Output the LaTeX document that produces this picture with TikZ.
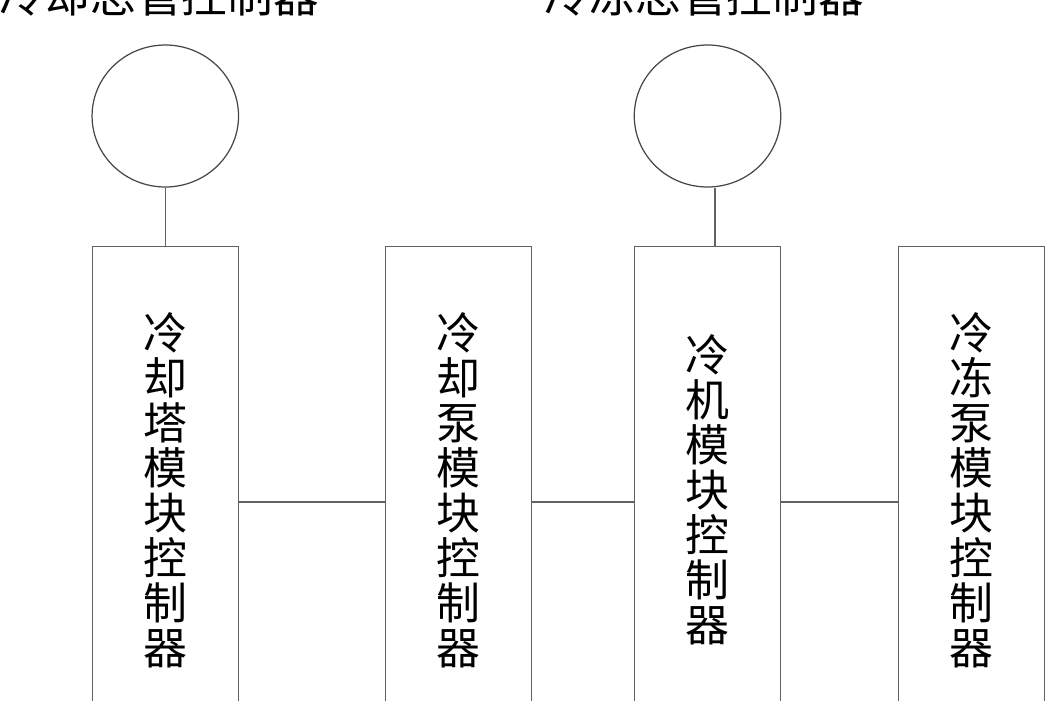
\documentclass[tikz,border=0pt]{standalone}
\usepackage{fontspec}
\setmainfont{Noto Sans CJK SC}
\usetikzlibrary{shapes.geometric}
\begin{document}
\begin{tikzpicture}[x=0.02cm,y=-0.02cm,
  line/.style={draw=black!62,line width=0.6pt},
  modbox/.style={line,rectangle,inner sep=0pt,minimum width=2.93cm,minimum height=9.76cm,align=center,
    font=\fontsize{25pt}{25.6pt}\selectfont},
  ctrl/.style={draw=black!72,line width=0.7pt,ellipse,inner sep=0pt,minimum width=2.93cm,minimum height=2.84cm},
  title/.style={anchor=base,inner sep=0pt,font=\fontsize{26pt}{27pt}\selectfont}]
\useasboundingbox (0,0) rectangle (1050,700);
\clip (0,0) rectangle (1050,700);
\fill[white] (0,0) rectangle (1050,700);
% titles
\node[title] (t1) at (159,12) {冷却总管控制器};
\node[title] (t2) at (704,12) {冷冻总管控制器};
% controllers
\node[ctrl] (c1) at (165.3,116) {};
\node[ctrl] (c2) at (707.5,116) {};
% module boxes
\node[modbox] (m1) at (165.4,490) {冷\\却\\塔\\模\\块\\控\\制\\器};
\node[modbox] (m2) at (458.5,490) {冷\\却\\泵\\模\\块\\控\\制\\器};
\node[modbox] (m3) at (707.7,490) {冷\\机\\模\\块\\控\\制\\器};
\node[modbox] (m4) at (971.5,490) {冷\\冻\\泵\\模\\块\\控\\制\\器};
% connectors
\coordinate (j1) at (166,502);
\draw[line] (c1.south -| m1.north) -- (m1.north);
\draw[line] (c2.south -| 715,0) -- (m3.north -| 715,0);
\draw[line] (m1.east |- j1) -- (m2.west |- j1);
\draw[line] (m2.east |- j1) -- (m3.west |- j1);
\draw[line] (m3.east |- j1) -- (m4.west |- j1);
\end{tikzpicture}
\end{document}
